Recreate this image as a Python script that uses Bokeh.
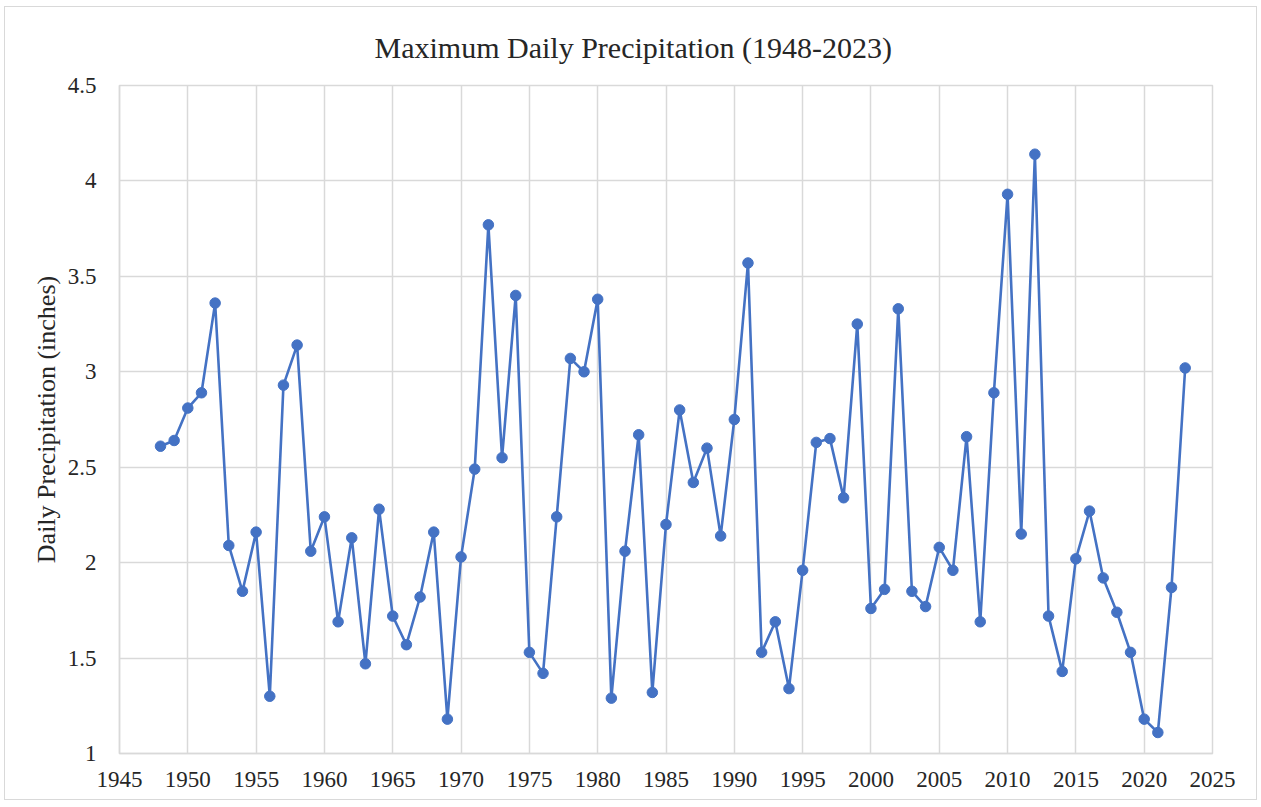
from bokeh.plotting import figure
from bokeh.models import FixedTicker, CustomJSTickFormatter, Range1d
from bokeh.embed import file_html
from bokeh.resources import INLINE

years = list(range(1948, 2024))
precip = [2.61, 2.64, 2.81, 2.89, 3.36, 2.09, 1.85, 2.16, 1.30, 2.93,
          3.14, 2.06, 2.24, 1.69, 2.13, 1.47, 2.28, 1.72, 1.57, 1.82,
          2.16, 1.18, 2.03, 2.49, 3.77, 2.55, 3.40, 1.53, 1.42, 2.24,
          3.07, 3.00, 3.38, 1.29, 2.06, 2.67, 1.32, 2.20, 2.80, 2.42,
          2.60, 2.14, 2.75, 3.57, 1.53, 1.69, 1.34, 1.96, 2.63, 2.65,
          2.34, 3.25, 1.76, 1.86, 3.33, 1.85, 1.77, 2.08, 1.96, 2.66,
          1.69, 2.89, 3.93, 2.15, 4.14, 1.72, 1.43, 2.02, 2.27, 1.92,
          1.74, 1.53, 1.18, 1.11, 1.87, 3.02]
x_ticks = list(range(1945, 2026, 5))
y_ticks = [1, 1.5, 2, 2.5, 3, 3.5, 4, 4.5]

FONT = "Liberation Serif"
GRID = "#d9d9d9"
BLUE = "#4472C4"
TXT = "#262626"

p = figure(width=1253, height=794, output_backend="svg", toolbar_location=None,
           x_range=Range1d(1945, 2025), y_range=Range1d(1, 4.5),
           min_border_left=114, min_border_right=46, min_border_top=0,
           min_border_bottom=48,
           title="Maximum Daily Precipitation (1948-2023)")
p.styles = {"border": "1px solid #d9d9d9", "margin-left": "4px", "margin-top": "6px"}

p.title.text_font = FONT
p.title.text_font_size = "30px"
p.title.text_font_style = "normal"
p.title.text_color = TXT
p.title.align = "left"
p.title.offset = 255
p.title.standoff = 43

p.line(years, precip, line_color=BLUE, line_width=2.6)
p.scatter(years, precip, size=10.5, fill_color=BLUE, line_color=BLUE)

for ax in (p.xaxis[0], p.yaxis[0]):
    ax.axis_line_color = GRID
    ax.axis_line_width = 1.5
    ax.major_tick_line_color = None
    ax.minor_tick_line_color = None
    ax.major_label_text_font = FONT
    ax.major_label_text_font_size = "23px"
    ax.major_label_text_color = TXT

p.xaxis.ticker = FixedTicker(ticks=x_ticks)
p.yaxis.ticker = FixedTicker(ticks=y_ticks)
p.yaxis.formatter = CustomJSTickFormatter(code="return tick.toString();")
p.xaxis.major_label_standoff = 12
p.yaxis.major_label_standoff = 17

p.yaxis.axis_label = "Daily Precipitation (inches)"
p.yaxis.axis_label_text_font = FONT
p.yaxis.axis_label_text_font_size = "26px"
p.yaxis.axis_label_text_font_style = "normal"
p.yaxis.axis_label_text_color = TXT
p.yaxis.axis_label_standoff = 4

p.xgrid.ticker = FixedTicker(ticks=x_ticks)
p.ygrid.ticker = FixedTicker(ticks=y_ticks)
p.grid.grid_line_color = GRID
p.grid.grid_line_width = 1.5
p.outline_line_color = GRID
p.outline_line_width = 1.5

open("out.html", "w").write(file_html(p, INLINE))
